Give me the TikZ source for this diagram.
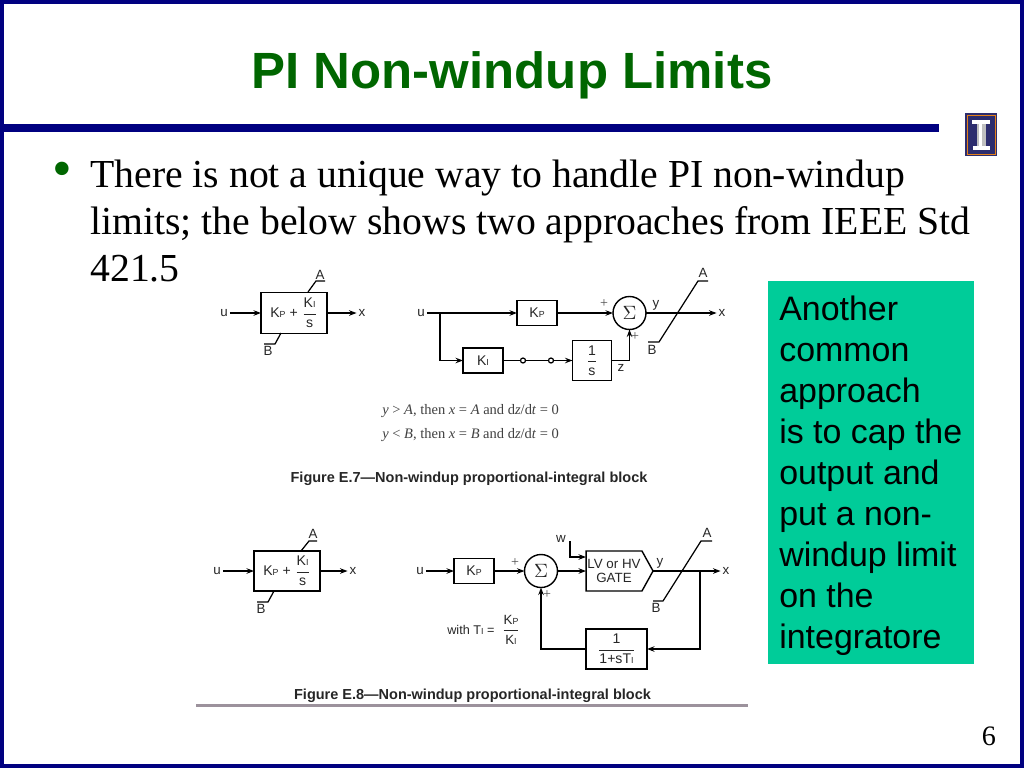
\documentclass[tikz,border=0pt]{standalone}
\usepackage{fontspec}
\setmainfont{Liberation Serif}
\setsansfont{Liberation Sans}
\usepackage{xcolor}
\usetikzlibrary{arrows.meta, shapes.symbols}
\definecolor{navyframe}{HTML}{000080}
\definecolor{titlegreen}{HTML}{006600}
\definecolor{notegreen}{HTML}{00CC99}
\definecolor{logoblue}{HTML}{2D2D6E}
\definecolor{rulegray}{HTML}{9C929C}
\tikzstyle{arrow} = [line width=0.7pt,-{Stealth[length=1.5mm,width=1.1mm]}]
\tikzstyle{wire} = [line width=0.7pt]
\tikzstyle{block} = [draw, thick, inner sep=0pt, outer sep=0pt, text=black!85, font=\sffamily\fontsize{8}{10}\selectfont]
\tikzstyle{lab} = [inner sep=1pt, font=\sffamily\fontsize{7.6}{9}\selectfont, text=black!85]
\tikzstyle{sign} = [inner sep=0pt, font=\rmfamily\fontsize{8}{9}\selectfont, text=black!70]
\tikzstyle{figcap} = [inner sep=0pt, font=\sffamily\bfseries\fontsize{8.25}{10}\selectfont, text=black!85]
\tikzstyle{cond} = [inner sep=0pt, anchor=west, font=\rmfamily\fontsize{8.25}{10}\selectfont, text=black!75]
\tikzstyle{dotmark} = [draw, line width=0.7pt, circle, fill=white, inner sep=0pt, minimum size=5*0.02cm]
\newcommand{\KP}{K{\fontsize{5}{6}\selectfont P}}
\newcommand{\KI}{K{\fontsize{5}{6}\selectfont I}}
\newcommand{\TI}{T{\fontsize{5}{6}\selectfont I}}
\newcommand{\fracbox}[2]{$\displaystyle\frac{\hbox{#1}}{\hbox{#2}}$}
\begin{document}
\begin{tikzpicture}[x=0.02cm,y=-0.02cm]
\useasboundingbox (0,0) rectangle (1024,768);
% Slide frame
\draw[navyframe, line width=4*0.02cm] (2,2) rectangle (1022,766);
\fill[navyframe] (0,124) rectangle (939,132);

% Title
\node[font=\sffamily\bfseries\fontsize{29}{34}\selectfont, text=titlegreen] (title) at (512,75) {PI Non-windup Limits};

% Logo
\fill[logoblue] (965,113) rectangle (997,156);
\draw[orange!60!brown, line width=0.5pt] (967,115) rectangle (995,154);
\fill[white] (972,120) rectangle (990,124);
\fill[black!25] (977,124) rectangle (986,146);
\fill[white] (979,124) rectangle (982,146);
\fill[white] (973,146) rectangle (990,150);

% Body text
\node[text=titlegreen, inner sep=0pt, font=\fontsize{32}{32}\selectfont] (bullet) at (62,175) {\textbullet};
\node[anchor=north west, inner sep=0pt, align=left, font=\rmfamily\fontsize{22.6}{26.7}\selectfont] (body) at (90,160) {There is not a unique way to handle PI non-windup\\limits; the below shows two approaches from IEEE Std\\421.5};

% Side note
\node[fill=notegreen, anchor=north west, minimum width=206*0.02cm, minimum height=383*0.02cm, inner sep=0pt] (notebox) at (768,281) {};
\node[anchor=north west, inner sep=0pt, align=left, font=\sffamily\fontsize{19.3}{23.33}\selectfont] (note) at (779,296) {Another\\common\\approach\\is to cap the\\output and\\put a non-\\windup limit\\on the\\integratore};

% Figure E.7 left block
\node[block, minimum width=1.32cm, minimum height=0.82cm] (blockA) at (294,313) {\KP{} + \fracbox{\KI}{s}};
\node[lab] (uA) at (224,313) {u};
\node[lab] (xA) at (362,313) {x};
\draw[arrow] (uA.east) -- (blockA.west);
\draw[arrow] (blockA.east) -- (xA.west);
\coordinate (limA1) at (308,292);
\coordinate (limA2) at (316,281);
\coordinate (limA3) at (325,281);
\coordinate (limA4) at (281,333);
\coordinate (limA5) at (275,344);
\coordinate (limA6) at (264,344);
\draw[wire] (limA1) -- (limA2) -- (limA3);
\draw[wire] (limA4) -- (limA5) -- (limA6);
\node[lab] (aA) at (320,275) {A};
\node[lab] (bA) at (268,351) {B};

% Figure E.7 right block
\node[lab] (uB) at (421,313) {u};
\node[block, minimum width=0.8cm, minimum height=0.5cm] (kpB) at (537,313) {\KP};
\node[block, minimum width=0.8cm, minimum height=0.5cm] (kiB) at (483,360.5) {\KI};
\node[block, minimum width=0.78cm, minimum height=0.8cm] (intB) at (592,360.5) {\fracbox{1}{s}};
\node[block, circle, minimum size=0.66cm] (sumB) at (629.5,313) {\fontsize{11}{12}\selectfont$\Sigma$};
\node[dotmark] (dotB1) at (523,360.5) {};
\node[dotmark] (dotB2) at (551,360.5) {};
\coordinate (branchB) at (440,313);
\draw[arrow] (uB.east) -- (kpB.west);
\draw[arrow] (branchB) |- (kiB.west);
\draw[wire] (kiB.east) -- (dotB1) -- (dotB2);
\draw[arrow] (dotB2) -- (intB.west);
\draw[arrow] (kpB.east) -- (sumB.west);
\draw[arrow] (intB.east) -| (sumB.south);
\node[lab] (xB) at (722,313) {x};
\draw[arrow] (sumB.east) -- (xB.west);
\coordinate (limB1) at (648,342);
\coordinate (limB2) at (659,342);
\coordinate (limB3) at (698,281);
\coordinate (limB4) at (708,281);
\draw[wire] (limB1) -- (limB2) -- (limB3) -- (limB4);
\node[lab] (aB) at (703,273) {A};
\node[lab] (bB) at (652,350) {B};
\node[lab] (yB) at (656,305) {y};
\node[lab] (zB) at (621,368) {z};
\node[sign] (plusB1) at (604,304) {+};
\node[sign] (plusB2) at (635,337) {+};

% Figure E.7 conditions
\node[cond] (condA) at (382,411) {\textit{y} > \textit{A}, then \textit{x} = \textit{A} and d\textit{z}/d\textit{t} = 0};
\node[cond] (condB) at (382,435) {\textit{y} < \textit{B}, then \textit{x} = \textit{B} and d\textit{z}/d\textit{t} = 0};
\node[figcap] (capA) at (469,479) {Figure E.7---Non-windup proportional-integral block};

% Figure E.8 left block
\node[block, minimum width=1.32cm, minimum height=0.8cm] (blockC) at (287,571) {\KP{} + \fracbox{\KI}{s}};
\node[lab] (uC) at (217,571) {u};
\node[lab] (xC) at (353,571) {x};
\draw[arrow] (uC.east) -- (blockC.west);
\draw[arrow] (blockC.east) -- (xC.west);
\coordinate (limC1) at (301,551);
\coordinate (limC2) at (309,541);
\coordinate (limC3) at (317,541);
\coordinate (limC4) at (274,591);
\coordinate (limC5) at (268,602);
\coordinate (limC6) at (257,602);
\draw[wire] (limC1) -- (limC2) -- (limC3);
\draw[wire] (limC4) -- (limC5) -- (limC6);
\node[lab] (aC) at (313,534) {A};
\node[lab] (bC) at (261,609) {B};

% Figure E.8 right block
\node[lab] (uD) at (420,571) {u};
\node[block, minimum width=0.8cm, minimum height=0.5cm] (kpD) at (474,571) {\KP};
\node[block, circle, minimum size=0.66cm] (sumD) at (541,571) {\fontsize{11}{12}\selectfont$\Sigma$};
\node[block, signal, signal to=east, signal pointer angle=122, minimum width=1.34cm, minimum height=0.8cm, align=center, font=\sffamily\fontsize{7.6}{8}\selectfont] (gateD) at (614,571) {LV or HV\\GATE};
\node[block, minimum width=1.22cm, minimum height=0.8cm] (lagD) at (616.5,649) {\fracbox{1}{1+s\TI}};
\node[lab] (xD) at (726,571) {x};
\node[lab] (wD) at (561,539) {w};
\coordinate (wTop) at (570,541);
\coordinate (wIn) at (586,557);
\coordinate (branchD) at (700,571);
\draw[arrow] (uD.east) -- (kpD.west);
\draw[arrow] (kpD.east) -- (sumD.west);
\draw[arrow] (sumD.east) -- (gateD.west);
\draw[arrow] (wTop) |- (wIn);
\draw[arrow] (gateD.east) -- (xD.west);
\draw[arrow] (branchD) |- (lagD.east);
\draw[arrow] (lagD.west) -| (sumD.south);
\coordinate (limD1) at (653,601);
\coordinate (limD2) at (663,601);
\coordinate (limD3) at (701,541);
\coordinate (limD4) at (712,541);
\draw[wire] (limD1) -- (limD2) -- (limD3) -- (limD4);
\node[lab] (aD) at (707,533) {A};
\node[lab] (bD) at (656,608) {B};
\node[lab] (yD) at (660,563) {y};
\node[sign] (plusD1) at (515,563) {+};
\node[sign] (plusD2) at (547,595) {+};
\node[lab, anchor=west, inner sep=0pt, font=\sffamily\fontsize{7.2}{9}\selectfont] (withD) at (447,630) {with \TI{} =};
\node[lab, font=\sffamily\fontsize{7.6}{9}\selectfont] (ratioD) at (511,630) {\fracbox{\KP}{\KI}};
\node[figcap] (capD) at (472.5,696) {Figure E.8---Non-windup proportional-integral block};

% Bottom rule
\fill[rulegray] (196,703.5) rectangle (748,707);

% Page number
\node[inner sep=0pt, font=\rmfamily\fontsize{16}{18}\selectfont] (page) at (989,736) {6};
\end{tikzpicture}
\end{document}
